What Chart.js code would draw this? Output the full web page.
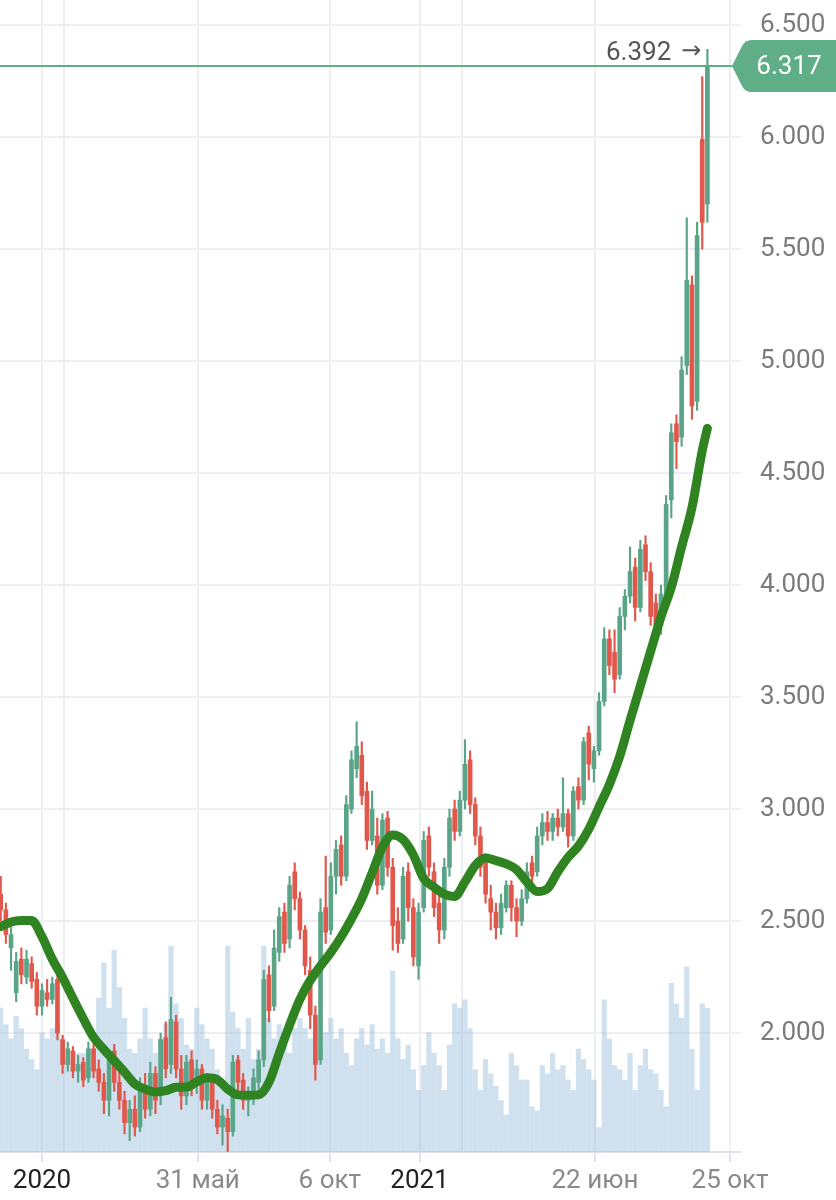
<!DOCTYPE html>
<html><head><meta charset="utf-8">
<script src="https://cdn.jsdelivr.net/npm/chart.js@4/dist/chart.umd.min.js"></script>
<style>html,body{margin:0;padding:0;background:#fff}canvas{display:block}</style>
</head><body>
<canvas id="c" width="836" height="1200"></canvas>
<script>
// candles: one every 5 days, starting 40 days before 1 Jan 2020 (day 0)
const firstDay = -40, stepDays = 5;
const openPrices = [2.62,2.55,2.38,2.18,2.33,2.25,2.31,2.24,2.12,2.18,2.15,2.24,1.97,1.86,1.92,1.83,1.87,1.80,1.93,1.84,
1.78,1.70,1.92,1.78,1.70,1.60,1.66,1.58,1.76,1.66,1.82,1.72,1.98,1.86,2.05,1.84,1.72,1.88,1.77,1.84,
1.70,1.78,1.66,1.58,1.62,1.56,1.88,1.79,1.70,1.72,1.78,1.88,2.26,2.12,2.36,2.54,2.42,2.72,2.60,2.46,
2.28,2.08,1.88,2.56,2.46,2.70,2.84,2.70,3.00,3.18,3.24,3.08,2.86,2.88,2.66,2.96,2.74,2.50,2.42,2.72,
2.56,2.30,2.56,2.88,2.72,2.58,2.46,2.74,3.00,2.90,3.04,3.22,3.02,2.88,2.76,2.60,2.54,2.47,2.56,2.66,
2.56,2.50,2.60,2.76,2.72,2.88,2.94,2.90,2.96,2.92,2.98,2.88,3.10,3.04,3.34,3.18,3.26,3.48,3.76,3.70,
3.60,3.86,3.95,4.08,3.90,4.18,4.06,3.92,3.82,3.96,4.38,4.72,4.66,4.98,5.34,4.82,5.99,5.70];
const highPrices = [2.70,2.58,2.48,2.36,2.38,2.37,2.34,2.27,2.22,2.24,2.25,2.27,1.99,1.96,1.94,1.90,1.89,1.96,1.98,1.88,
1.82,1.92,1.95,1.84,1.74,1.70,1.72,1.80,1.82,1.87,1.85,2.00,2.05,2.16,2.08,1.90,1.90,1.92,1.88,1.86,
1.82,1.80,1.70,1.68,1.66,1.90,1.90,1.82,1.76,1.84,1.92,2.28,2.30,2.46,2.56,2.58,2.70,2.76,2.63,2.48,
2.34,2.12,2.60,2.79,2.76,2.86,2.88,3.06,3.26,3.39,3.30,3.12,3.08,2.96,2.98,2.99,2.78,2.56,2.74,2.76,
2.60,2.58,2.90,2.92,2.76,2.62,2.78,3.00,3.04,3.08,3.31,3.26,3.05,2.92,2.80,2.66,2.58,2.62,2.68,2.68,
2.60,2.64,2.76,2.79,2.92,2.98,2.99,2.98,3.00,3.14,3.00,3.10,3.14,3.32,3.37,3.28,3.52,3.81,3.80,3.80,
3.90,3.98,4.17,4.12,4.20,4.22,4.10,3.96,4.00,4.40,4.72,4.76,5.02,5.64,5.38,5.62,6.27,6.392];
const lowPrices = [2.50,2.40,2.28,2.14,2.22,2.22,2.20,2.08,2.08,2.12,2.13,1.97,1.82,1.83,1.80,1.78,1.76,1.78,1.80,1.74,
1.64,1.63,1.74,1.66,1.55,1.52,1.54,1.56,1.62,1.63,1.64,1.68,1.80,1.82,1.80,1.66,1.68,1.72,1.73,1.66,
1.66,1.62,1.55,1.50,1.47,1.54,1.74,1.66,1.63,1.68,1.74,1.85,2.05,2.10,2.32,2.36,2.38,2.55,2.42,2.26,
2.02,1.79,1.86,2.40,2.44,2.62,2.66,2.68,2.98,3.14,3.02,2.82,2.84,2.62,2.64,2.70,2.37,2.36,2.40,2.50,
2.30,2.24,2.54,2.70,2.52,2.40,2.42,2.70,2.86,2.88,3.00,2.98,2.84,2.70,2.58,2.46,2.42,2.44,2.54,2.50,
2.43,2.48,2.58,2.66,2.70,2.84,2.86,2.86,2.88,2.90,2.83,2.86,3.00,3.02,3.13,3.12,3.24,3.46,3.60,3.52,
3.58,3.80,3.92,3.84,3.88,4.02,3.82,3.74,3.78,3.94,4.30,4.52,4.62,4.94,4.74,4.78,5.50,5.62];
const closePrices = [2.55,2.44,2.44,2.32,2.26,2.33,2.23,2.12,2.19,2.15,2.22,2.00,1.86,1.93,1.83,1.86,1.79,1.93,1.83,1.78,
1.70,1.88,1.78,1.70,1.60,1.66,1.58,1.76,1.66,1.82,1.70,1.97,1.84,2.06,1.84,1.72,1.87,1.76,1.84,1.70,
1.78,1.66,1.58,1.63,1.56,1.87,1.78,1.70,1.73,1.80,1.88,2.24,2.10,2.38,2.52,2.40,2.66,2.60,2.46,2.30,
2.08,1.86,2.54,2.45,2.70,2.82,2.70,3.02,3.22,3.28,3.06,2.86,3.00,2.66,2.95,2.74,2.48,2.40,2.70,2.56,
2.34,2.54,2.86,2.74,2.56,2.46,2.74,2.96,2.90,3.04,3.20,3.02,2.88,2.74,2.62,2.54,2.47,2.58,2.66,2.56,
2.50,2.60,2.72,2.70,2.88,2.94,2.90,2.96,2.92,2.98,2.88,3.08,3.04,3.30,3.20,3.26,3.48,3.76,3.64,3.58,
3.86,3.95,4.06,3.90,4.16,4.06,3.86,3.82,3.96,4.36,4.68,4.64,4.96,5.36,4.80,5.56,5.62,6.317];
const volume = [70,62,55,66,60,50,45,40,58,55,60,62,55,45,42,48,48,40,50,75,
92,70,98,80,65,50,48,55,70,55,48,55,62,100,72,65,52,50,70,62,
55,50,40,32,100,68,60,50,65,45,50,100,65,55,62,52,48,60,65,60,
55,62,50,58,65,55,60,48,42,55,60,52,62,50,55,48,88,55,45,52,
40,30,42,58,48,42,30,52,72,70,74,60,40,30,45,38,32,25,18,48,
42,35,35,22,20,42,38,48,40,42,35,30,50,45,40,35,12,74,55,42,
40,35,48,30,42,50,40,38,30,22,82,72,65,90,50,30,72,70];
// moving average, sampled at every second candle (last point = last candle)
const maValues = [2.475,2.496,2.503,2.502,2.43,2.33,2.248,2.155,2.065,1.981,1.927,1.877,1.826,1.773,1.750,1.737,1.743,1.758,1.759,1.782,
1.800,1.792,1.750,1.724,1.722,1.724,1.78,1.91,2.035,2.15,2.235,2.30,2.36,2.43,2.51,2.60,2.715,2.83,2.884,2.864,
2.795,2.69,2.652,2.62,2.61,2.675,2.748,2.781,2.770,2.755,2.730,2.675,2.632,2.645,2.72,2.785,2.835,2.91,3.01,3.11,
3.235,3.395,3.55,3.705,3.858,3.99,4.17,4.345,4.60,4.70];
const priceTicks = [2.0,2.5,3.0,3.5,4.0,4.5,5.0,5.5,6.0,6.5];
const xTickDays = [0,21,151,279,366,407,536,667];
const xTickLabels = ['2020','','31 май','6 окт','2021','','22 июн','25 окт'];
const yearLabels = ['2020','2021'];

const UP = '#5aa488', DOWN = '#e2574c', LINE_GREEN = '#5fae87';
const days = openPrices.map((_, i) => firstDay + i * stepDays);
const last = days.length - 1;
const candleColor = days.map((_, i) => closePrices[i] >= openPrices[i] ? UP : DOWN);

const pricePlugin = {
  id: 'priceTag',
  afterDatasetsDraw(chart) {
    const {ctx, chartArea, scales} = chart;
    const ys = scales.y, xs = scales.x;
    const lc = closePrices[last], lh = highPrices[last];
    const yc = ys.getPixelForValue(lc);
    ctx.save();
    ctx.strokeStyle = LINE_GREEN; ctx.lineWidth = 2;
    ctx.beginPath(); ctx.moveTo(chartArea.left, yc); ctx.lineTo(chartArea.right, yc); ctx.stroke();
    // high annotation
    const xh = xs.getPixelForValue(days[last]);
    const yh = ys.getPixelForValue(lh);
    ctx.fillStyle = '#555'; ctx.textBaseline = 'middle'; ctx.textAlign = 'right';
    ctx.font = '24px "DejaVu Sans"';
    ctx.fillText('→', xh - 6, yh + 2);
    const aw = ctx.measureText('→').width;
    ctx.font = '26px Roboto';
    ctx.fillText(lh.toFixed(3), xh - 6 - aw - 10, yh + 4);
    // tag
    const left = chartArea.right - 8, top = yc - 26, bot = yc + 26;
    ctx.fillStyle = LINE_GREEN;
    ctx.beginPath();
    ctx.moveTo(left, yc);
    ctx.lineTo(left + 10, top + 6);
    ctx.quadraticCurveTo(left + 13, top, left + 20, top);
    ctx.lineTo(846, top); ctx.lineTo(846, bot);
    ctx.lineTo(left + 20, bot);
    ctx.quadraticCurveTo(left + 13, bot, left + 10, bot - 6);
    ctx.closePath(); ctx.fill();
    ctx.fillStyle = '#ffffff'; ctx.textAlign = 'center';
    ctx.fillText(lc.toFixed(3), 789, yc + 1);
    ctx.restore();
  }
};

new Chart(document.getElementById('c'), {
  type: 'bar',
  data: {
    datasets: [
      { label: 'ma', type: 'line', yAxisID: 'y', order: 1,
        data: maValues.map((v, j) => ({x: days[Math.min(2 * j, last)], y: v})),
        borderColor: '#2f8321', borderWidth: 9, pointRadius: 0,
        cubicInterpolationMode: 'monotone', borderCapStyle: 'round', borderJoinStyle: 'round' },
      { label: 'body', yAxisID: 'y', order: 2, grouped: false, barThickness: 4, minBarLength: 1,
        data: days.map((d, i) => ({x: d, y: [openPrices[i], closePrices[i]]})),
        backgroundColor: candleColor },
      { label: 'wick', yAxisID: 'y', order: 3, grouped: false, barThickness: 1.5,
        data: days.map((d, i) => ({x: d, y: [lowPrices[i], highPrices[i]]})),
        backgroundColor: candleColor },
      { label: 'volume', yAxisID: 'yVol', order: 4, grouped: false, barThickness: 4.5,
        data: days.map((d, i) => ({x: d, y: volume[i]})),
        backgroundColor: 'rgba(160,194,222,0.5)' }
    ]
  },
  options: {
    responsive: false, animation: false, devicePixelRatio: 1,
    layout: { padding: 0 },
    plugins: { legend: { display: false }, tooltip: { enabled: false } },
    scales: {
      x: {
        type: 'linear', min: -40.7, max: 676.6, offset: false,
        afterBuildTicks: s => { s.ticks = xTickDays.map(v => ({value: v})); },
        afterFit: s => { s.height = 48; s.paddingLeft = 0; s.paddingRight = 0; },
        ticks: {
          autoSkip: false, maxRotation: 0, padding: 4,
          callback: (v, i) => xTickLabels[i],
          color: c => yearLabels.includes(xTickLabels[c.index]) ? '#222' : '#8a8a8a',
          font: { family: 'Roboto', size: 26 }
        },
        grid: {
          offset: false,
          color: '#eceef1', lineWidth: 2, tickLength: 10,
          tickColor: c => xTickLabels[c.index] ? '#dfe2e6' : 'rgba(0,0,0,0)'
        },
        border: { display: true, color: '#dfe2e6', width: 2 }
      },
      y: {
        position: 'right', min: 1.469, max: 6.612,
        afterBuildTicks: s => { s.ticks = priceTicks.map(v => ({value: v})); },
        afterFit: s => { s.width = 96; s.paddingTop = 0; s.paddingBottom = 0; },
        ticks: {
          padding: 20, color: '#7b7b7b',
          callback: v => Number(v).toFixed(3),
          font: { family: 'Roboto', size: 26 }
        },
        grid: { color: '#eceef1', lineWidth: 2, drawTicks: false },
        border: { display: false }
      },
      yVol: { display: false, min: 0, max: 560 }
    }
  },
  plugins: [pricePlugin]
});
</script>
</body></html>
